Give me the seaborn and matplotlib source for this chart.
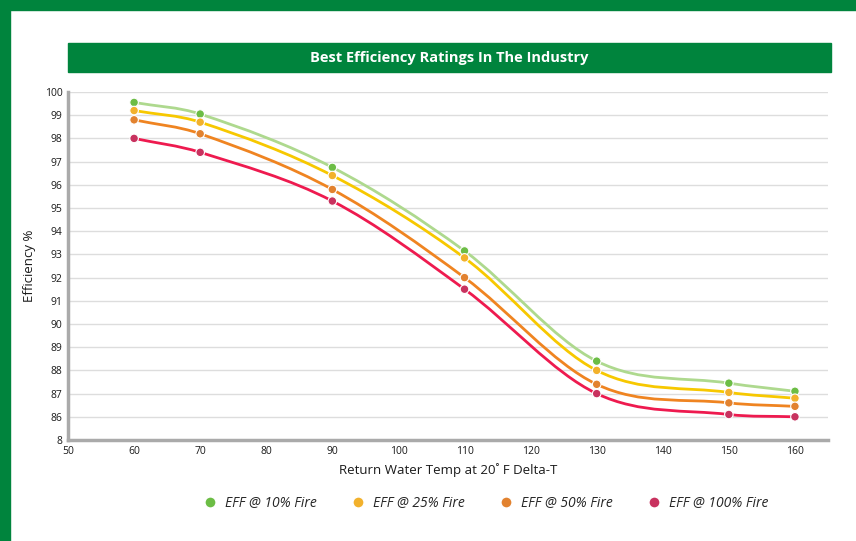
import numpy as np
import pandas as pd
import matplotlib
matplotlib.use("Agg")
import matplotlib.pyplot as plt
from matplotlib.path import Path
from matplotlib.patches import PathPatch, Rectangle
from matplotlib.lines import Line2D
import seaborn as sns

# data
temps = [60, 70, 90, 110, 130, 150, 160]
eff_10 = [99.55, 99.05, 96.75, 93.15, 88.4, 87.45, 87.1]
eff_25 = [99.2, 98.7, 96.4, 92.85, 88.0, 87.05, 86.8]
eff_50 = [98.8, 98.2, 95.8, 92.0, 87.4, 86.6, 86.45]
eff_100 = [98.0, 97.4, 95.3, 91.5, 87.0, 86.1, 86.0]
series_names = ["EFF @ 10% Fire", "EFF @ 25% Fire", "EFF @ 50% Fire", "EFF @ 100% Fire"]
y_ticks = list(range(86, 101))
x_ticks = list(range(50, 170, 10))

line_colors = ["#aed98e", "#f7c800", "#ef8421", "#ee1a4f"]
dot_colors = ["#6cbd45", "#f2b12c", "#e2822f", "#c8325f"]
green = "#00843d"

df = pd.DataFrame({"temp": temps * 4,
                   "eff": eff_10 + eff_25 + eff_50 + eff_100,
                   "series": np.repeat(series_names, len(temps))})

sns.set_style("white")
plt.rcParams["font.family"] = ["Open Sans", "DejaVu Sans"]

fig = plt.figure(figsize=(8.56, 5.41), dpi=100)
ax = fig.add_axes([68 / 856, 1 - 440 / 541, 760 / 856, 348 / 541])


def smooth_path(xs, ys):
    # catmull-rom style bezier segments through the data points
    xs = np.asarray(xs, float)
    ys = np.asarray(ys, float)
    verts = [(xs[0], ys[0])]
    codes = [Path.MOVETO]
    n = len(xs)
    for i in range(n - 1):
        i0 = max(i - 1, 0)
        i3 = min(i + 2, n - 1)
        d = xs[i + 1] - xs[i]
        s1 = (ys[i + 1] - ys[i0]) / (xs[i + 1] - xs[i0])
        s2 = (ys[i3] - ys[i]) / (xs[i3] - xs[i])
        verts += [(xs[i] + d / 3, ys[i] + s1 * d / 3),
                  (xs[i + 1] - d / 3, ys[i + 1] - s2 * d / 3),
                  (xs[i + 1], ys[i + 1])]
        codes += [Path.CURVE4] * 3
    return Path(verts, codes)


for name, lc in zip(series_names, line_colors):
    sub = df[df["series"] == name]
    ax.add_patch(PathPatch(smooth_path(sub["temp"], sub["eff"]), fill=False,
                           edgecolor=lc, lw=2, zorder=3))

sns.scatterplot(data=df, x="temp", y="eff", hue="series", palette=dot_colors,
                s=38, edgecolor="white", linewidth=0.8, zorder=4, legend=False, ax=ax)

ax.set_xlim(50, 165)
ax.set_ylim(85, 100)
ax.set_xticks(x_ticks)
ax.set_yticks([85] + y_ticks)
ax.set_yticklabels(["8"] + [str(v) for v in y_ticks])
ax.tick_params(axis="both", labelsize=7.5, length=0, pad=4, colors="#1a1a1a")
ax.grid(axis="y", color="#dddddd", lw=1)
ax.grid(axis="x", visible=False)
for side in ["top", "right"]:
    ax.spines[side].set_visible(False)
for side in ["left", "bottom"]:
    ax.spines[side].set_color("#aaaaaa")
    ax.spines[side].set_linewidth(2.5)
ax.set_xlabel("Return Water Temp at 20˚ F Delta-T", fontsize=9.5, labelpad=5, color="#1a1a1a")
ax.set_ylabel("Efficiency %", fontsize=9.5, labelpad=6, color="#1a1a1a")

# green frame and title bar
fig.patches.append(Rectangle((0, 1 - 10 / 541), 1, 10 / 541, transform=fig.transFigure,
                             color=green, zorder=0))
fig.patches.append(Rectangle((0, 0), 10 / 856, 1, transform=fig.transFigure,
                             color=green, zorder=0))
fig.patches.append(Rectangle((68 / 856, 1 - 72 / 541), 763 / 856, 29 / 541,
                             transform=fig.transFigure, color=green, zorder=0))
fig.text(449 / 856, 1 - 58 / 541, "Best Efficiency Ratings In The Industry",
         color="white", fontsize=10.5, fontweight="bold", ha="center", va="center")

handles = [Line2D([], [], marker="o", ls="none", markersize=8, markerfacecolor=c,
                  markeredgecolor="white") for c in dot_colors]
fig.legend(handles, series_names, loc="center", bbox_to_anchor=(482 / 856, 1 - 503 / 541),
           ncol=4, frameon=False, prop={"style": "italic", "size": 10},
           handletextpad=0.05, columnspacing=2.0)

fig.savefig("out.png", dpi=100)
